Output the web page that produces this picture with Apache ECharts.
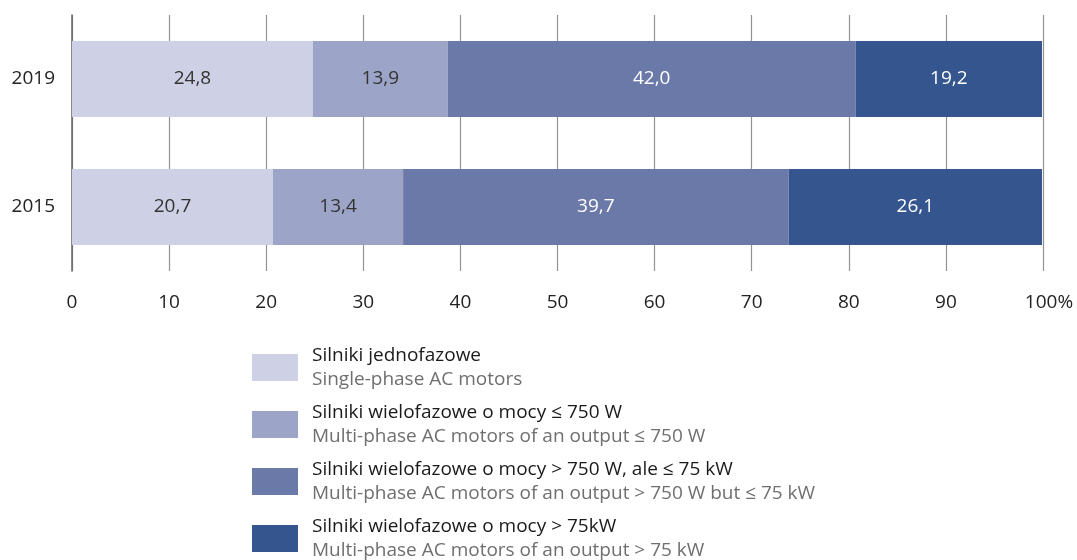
<!DOCTYPE html>
<html>
<head>
<meta charset="utf-8">
<script src="https://cdn.jsdelivr.net/npm/echarts@6/dist/echarts.min.js"></script>
<style>
html,body{margin:0;padding:0;background:#fff;}
#chart{width:1077px;height:560px;}
</style>
</head>
<body>
<div id="chart"></div>
<script>
const categories = ['2015', '2019'];
const seriesNamesPL = [
  'Silniki jednofazowe',
  'Silniki wielofazowe o mocy ≤ 750 W',
  'Silniki wielofazowe o mocy > 750 W, ale ≤ 75 kW',
  'Silniki wielofazowe o mocy > 75kW'
];
const seriesNamesEN = [
  'Single-phase AC motors',
  'Multi-phase AC motors of an output ≤ 750 W',
  'Multi-phase AC motors of an output > 750 W but ≤ 75 kW',
  'Multi-phase AC motors of an output > 75 kW'
];
const singlePhase = [20.7, 24.8];
const multiLe750W = [13.4, 13.9];
const multi750Wto75kW = [39.7, 42.0];
const multiGt75kW = [26.1, 19.2];
const xTicks = [0, 10, 20, 30, 40, 50, 60, 70, 80, 90, 100];

const colors = ['#ced1e5', '#9ca5c7', '#6b79a9', '#35558e'];
const labelColors = ['#333333', '#333333', '#ffffff', '#ffffff'];
const values = [singlePhase, multiLe750W, multi750Wto75kW, multiGt75kW];
const FONT = '"Open Sans", "Noto Sans", sans-serif';
const FS = 19;

const chart = echarts.init(document.getElementById('chart'), null, {renderer: 'canvas'});

const series = values.map((vals, i) => ({
  name: seriesNamesPL[i],
  type: 'bar',
  stack: 'total',
  barWidth: 76,
  data: vals,
  itemStyle: {color: colors[i]},
  label: {
    show: true,
    position: 'inside',
    color: labelColors[i],
    fontFamily: FONT,
    fontSize: FS,
    formatter: p => p.value.toFixed(1).replace('.', ',')
  },
  emphasis: {disabled: true}
}));

chart.setOption({
  animation: false,
  textStyle: {fontFamily: FONT},
  grid: {left: 72, right: 34, top: 15, height: 256, containLabel: false},
  xAxis: {
    type: 'value',
    min: 0, max: 100, interval: 10,
    axisLine: {show: false},
    axisTick: {show: false},
    splitLine: {show: true, lineStyle: {color: '#939393', width: 1.2}},
    axisLabel: {
      margin: 22,
      color: '#222',
      fontSize: FS,
      fontFamily: FONT,
      formatter: v => v === 100 ? '{p|100%}' : String(xTicks[xTicks.indexOf(v)]),
      rich: {p: {fontSize: FS, color: '#222', fontFamily: FONT, padding: [0, 0, 0, 12]}}
    }
  },
  yAxis: {
    type: 'category',
    data: categories,
    axisLine: {show: true, lineStyle: {color: '#666', width: 1.5}},
    axisTick: {show: false},
    axisLabel: {margin: 17, color: '#222', fontSize: FS, fontFamily: FONT}
  },
  legend: {
    orient: 'vertical',
    left: 252,
    top: 346,
    padding: 0,
    itemWidth: 46,
    itemHeight: 27,
    itemGap: 14,
    icon: 'rect',
    selectedMode: false,
    data: seriesNamesPL,
    formatter: name => {
      const i = seriesNamesPL.indexOf(name);
      return '{a|' + seriesNamesPL[i] + '}\n{b|' + seriesNamesEN[i] + '}';
    },
    textStyle: {
      padding: [0, 0, 0, 9],
      rich: {
        a: {fontSize: FS, color: '#1a1a1a', lineHeight: 24, fontFamily: FONT},
        b: {fontSize: FS, color: '#6f6f6f', lineHeight: 24, fontFamily: FONT}
      }
    }
  },
  series: series
});
</script>
</body>
</html>
